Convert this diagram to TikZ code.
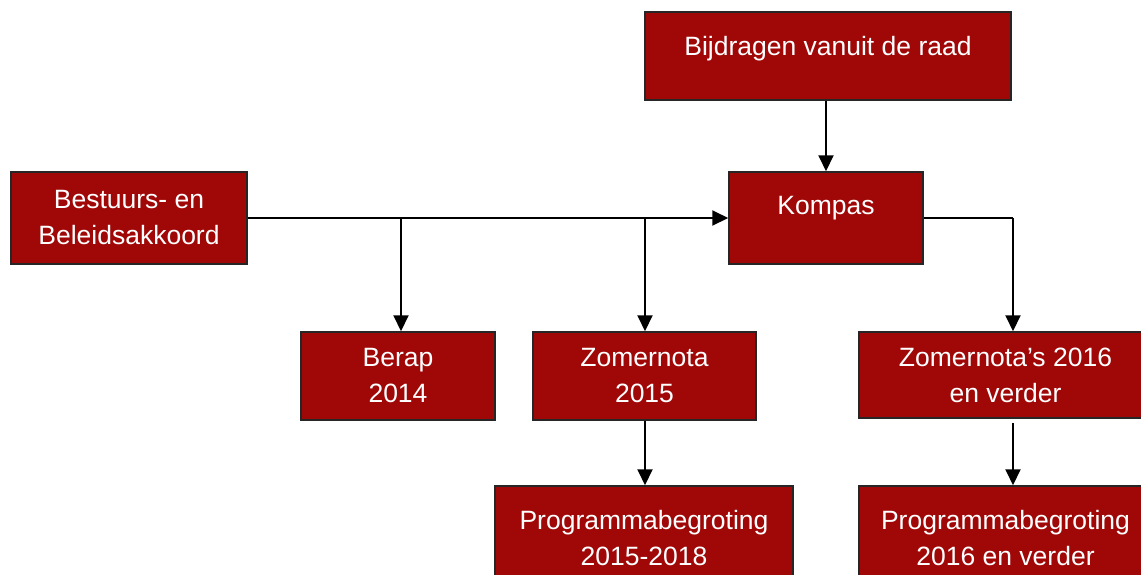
\documentclass[tikz,border=0pt]{standalone}
\usepackage{fontspec}
\setmainfont{Liberation Sans}
\usepackage{xcolor}
\usepackage{tikz}
\usetikzlibrary{arrows.meta, positioning, calc}
\definecolor{boxred}{RGB}{160,8,8}

\begin{document}
\begin{tikzpicture}[
		x=1pt, y=-1pt,
		font=\fontsize{26.5}{36}\selectfont,
		box/.style={
			draw=black!85,
			line width=1.5pt,
			fill=boxred,
			text=white,
			align=center,
			inner sep=0pt
		},
		topbox/.style={box,text height=20pt},
		arrow/.style={-{Triangle[length=16pt,width=15pt]},line width=2pt},
		thinline/.style={line width=1.3pt}
	]
	
	\useasboundingbox (0,0) rectangle (1141,574);
	
	\node[topbox,minimum width=366pt,minimum height=88pt,text depth=21pt] (bijdragen) at (828,56) {Bijdragen vanuit de raad};
	\node[box,minimum width=236pt,minimum height=92pt] (bestuurs) at (129,218) {Bestuurs- en\\Beleidsakkoord};
	\node[topbox,minimum width=194pt,minimum height=92pt,text depth=27pt] (kompas) at (826,218) {Kompas};
	
	\node[box,minimum width=194pt,minimum height=88pt] (berap) at (398,376) {Berap\\2014};
	\node[box,minimum width=223pt,minimum height=88pt] (zom15) at (644.5,376) {Zomernota\\2015};
	\node[box,minimum width=293pt,minimum height=86pt] (zom16) at (1005.5,375) {Zomernota’s 2016\\en verder};
	
	\node[box,minimum width=298pt,minimum height=104pt] (prog15) at (644,538) {Programmabegroting\\2015-2018};
	\node[box,minimum width=293pt,minimum height=104pt] (prog16) at (1005.5,538) {Programmabegroting\\2016 en verder};
	
	\coordinate (tak1) at (401,218);
	\coordinate (tak2) at (645,218);
	\coordinate (tak3) at (1013,218);
	
	\draw[arrow] (bijdragen.south -| kompas.north) -- (kompas.north);
	\draw[arrow] (bestuurs.east) -- (kompas.west);
	\draw[arrow] (tak1) -- (tak1 |- berap.north);
	\draw[arrow] (tak2) -- (tak2 |- zom15.north);
	\draw[thinline] (kompas.east) -- (tak3);
	\draw[arrow] (tak3) -- (tak3 |- zom16.north);
	\draw[arrow] (zom15.south -| tak2) -- (prog15.north -| tak2);
	\draw[arrow,shorten <=4pt] (zom16.south -| tak3) -- (prog16.north -| tak3);
	
\end{tikzpicture}
\end{document}
